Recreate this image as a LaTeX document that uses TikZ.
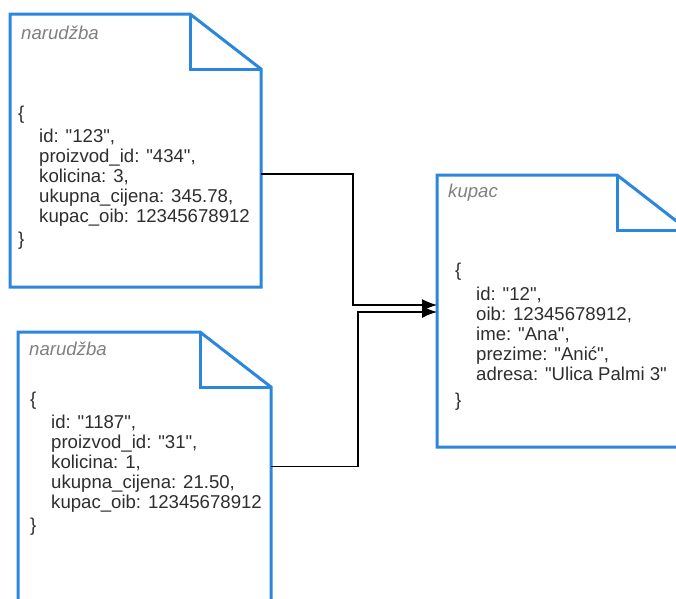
\documentclass[tikz,border=0pt]{standalone}
\usepackage{fontspec}
\setmainfont{Liberation Sans}
\usetikzlibrary{arrows.meta, positioning, calc}
\definecolor{noteBlue}{HTML}{2B87DE}
\definecolor{bodyGray}{HTML}{2E2E2E}
\definecolor{titleGray}{HTML}{808080}
\def\foldx{71}
\def\foldy{55}
\newcommand{\ind}{\hspace*{21pt}}
\newcommand{\qt}[1]{\textquotedbl#1\textquotedbl}
\newcommand{\DrawNote}[5]{
    \node[noteArea, minimum width=#4pt, minimum height=#5pt] (#1) at (#2,#3) {};
    \draw[noteEdge] (#1.north west) -- ([xshift=-\foldx pt]#1.north east) -- ([yshift=-\foldy pt]#1.north east) -- (#1.south east) -- (#1.south west) -- cycle;
    \draw[noteEdge] ([xshift=-\foldx pt]#1.north east) |- ([yshift=-\foldy pt]#1.north east);
}
\tikzset{
    % Notes
    noteArea/.style={rectangle, draw=none, fill=white, inner sep=0pt, outer sep=0pt, anchor=north west},
    noteEdge/.style={draw=noteBlue, line width=3pt, line join=miter},
    noteTitle/.style={anchor=west, inner sep=0pt, text=titleGray, font=\itshape\fontsize{18.6}{20}\selectfont},
    noteBody/.style={anchor=north west, inner sep=0pt, align=left, text=bodyGray, font=\fontsize{18.6}{20}\selectfont},
    % Links
    linkArrow/.style={-{Latex[length=15pt, width=12pt]}, draw=black, line width=1.4pt}
}
\begin{document}
\begin{tikzpicture}[x=1pt, y=-1pt]
    \clip (0,0) rectangle (676,598);
    \fill[white] (0,0) rectangle (676,598);

    % Orders
    \DrawNote{doc1}{10}{14}{251}{273}
    \node[noteTitle] (title1) at ([xshift=11pt, yshift=-19pt]doc1.north west) {narudžba};
    \node[noteBody] (body1) at ([xshift=8pt, yshift=-92pt]doc1.north west) {\{\\[3pt]
        \ind id: \qt{123},\\
        \ind proizvod\_id: \qt{434},\\
        \ind kolicina: 3,\\
        \ind ukupna\_cijena: 345.78,\\
        \ind kupac\_oib: 12345678912\\[3pt]
        \}};

    \DrawNote{doc2}{18}{332}{253}{273}
    \node[noteTitle] (title2) at ([xshift=11pt, yshift=-17pt]doc2.north west) {narudžba};
    \node[noteBody] (body2) at ([xshift=12pt, yshift=-60pt]doc2.north west) {\{\\[3pt]
        \ind id: \qt{1187},\\
        \ind proizvod\_id: \qt{31},\\
        \ind kolicina: 1,\\
        \ind ukupna\_cijena: 21.50,\\
        \ind kupac\_oib: 12345678912\\[3pt]
        \}};

    % Customer
    \DrawNote{doc3}{437}{175}{251}{272}
    \node[noteTitle] (title3) at ([xshift=11pt, yshift=-18pt]doc3.north west) {kupac};
    \node[noteBody] (body3) at ([xshift=18pt, yshift=-88pt]doc3.north west) {\{\\[4pt]
        \ind id: \qt{12},\\
        \ind oib: 12345678912,\\
        \ind ime: \qt{Ana},\\
        \ind prezime: \qt{Anić},\\
        \ind adresa: \qt{Ulica Palmi 3}\\[6pt]
        \}};

    % Links
    \draw[linkArrow] ([yshift=-23.5pt]doc1.east) -- ++(92,0) |- ([yshift=6pt]doc3.west);
    \draw[linkArrow] ([yshift=2pt]doc2.east) -- ++(87,0) |- ([yshift=-1pt]doc3.west);
\end{tikzpicture}
\end{document}
